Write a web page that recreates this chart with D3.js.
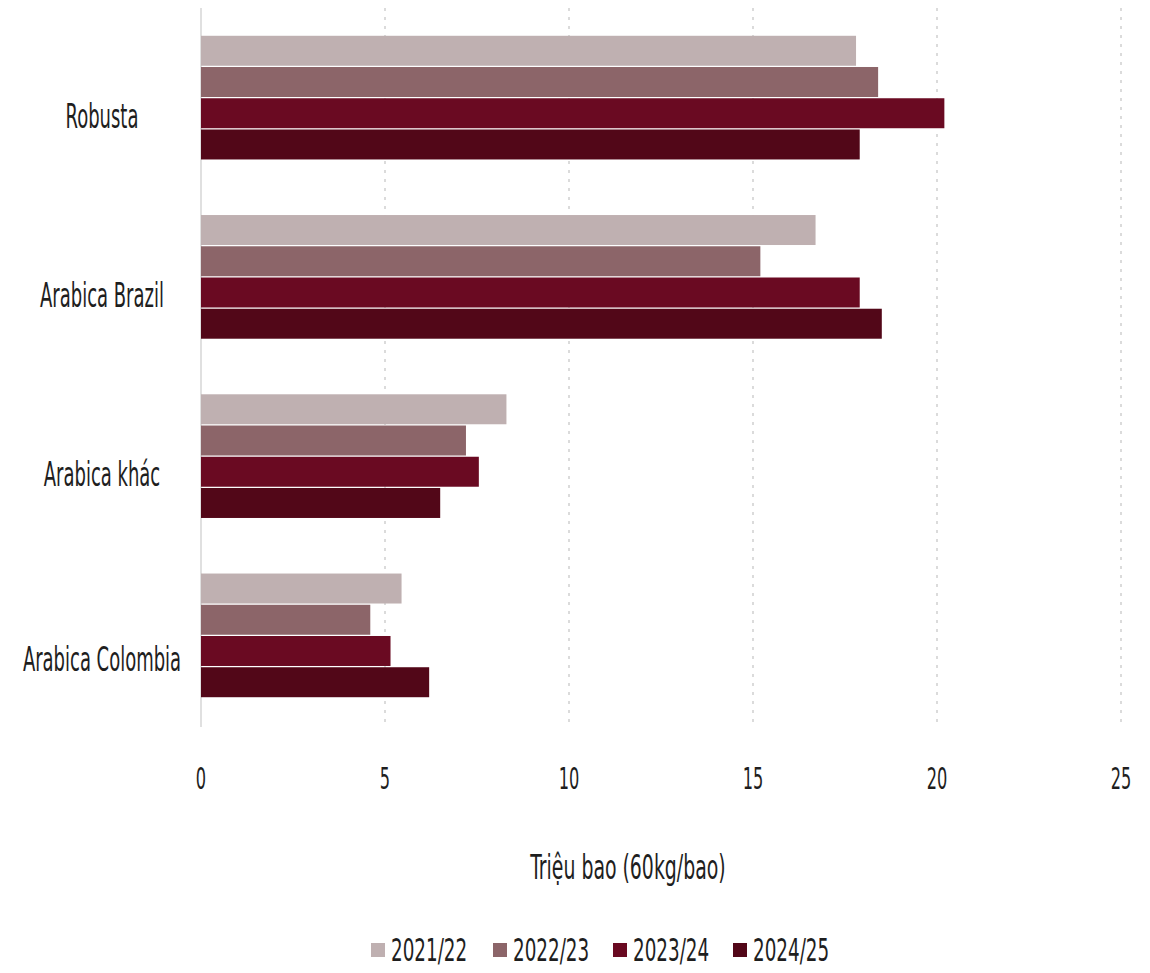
<!DOCTYPE html>
<html><head><meta charset="utf-8">
<script src="https://cdn.jsdelivr.net/npm/d3@7"></script>
<style>
body{margin:0;background:#fff;}
text{font-family:"DejaVu Sans Condensed","Liberation Sans Narrow",sans-serif;fill:#1e1e1e;}
</style></head>
<body><svg id="c" width="1150" height="973"></svg>
<script>
const categories = ["Robusta","Arabica Brazil","Arabica khác","Arabica Colombia"];
const seriesNames = ["2021/22","2022/23","2023/24","2024/25"];
const v2021 = [17.8, 16.7, 8.3, 5.45];
const v2022 = [18.4, 15.2, 7.2, 4.6];
const v2023 = [20.2, 17.9, 7.55, 5.15];
const v2024 = [17.9, 18.5, 6.5, 6.2];
const seriesValues = [v2021, v2022, v2023, v2024];
const colors = ["#bfb0b1","#8c6569","#6a0a22","#520718"];
const xTicks = [0,5,10,15,20,25];
const xTitle = "Triệu bao (60kg/bao)";

const svg = d3.select("#c");
const x = d3.scaleLinear().domain([0,25]).range([201,1121]);
const y = d3.scaleBand().domain(categories).range([8,725]).paddingInner(0.31).paddingOuter(0.155);
const y1 = d3.scaleBand().domain(seriesNames).range([0,y.bandwidth()]).paddingInner(0.04);

function stretchText(parent, tx, ty, str, size, sy, anchor){
  return parent.append("text")
    .attr("transform",`translate(${tx},${ty}) scale(1,${sy})`)
    .attr("text-anchor",anchor).attr("font-size",size).text(str);
}

// gridlines
svg.append("g").selectAll("line").data(xTicks.filter(d=>d>0)).join("line")
  .attr("x1",d=>x(d)).attr("x2",d=>x(d)).attr("y1",8).attr("y2",727)
  .attr("stroke","#c8c8c8").attr("stroke-width",1.3).attr("stroke-dasharray","3,6");
svg.append("line").attr("x1",x(0)).attr("x2",x(0)).attr("y1",8).attr("y2",727)
  .attr("stroke","#d0d0d0").attr("stroke-width",1.3);

const g = svg.append("g");
categories.forEach((c,ci)=>{
  seriesNames.forEach((s,si)=>{
    g.append("rect").attr("x",x(0)).attr("y",y(c)+y1(s))
     .attr("width",x(seriesValues[si][ci])-x(0)).attr("height",y1.bandwidth())
     .attr("fill",colors[si]);
  });
});

// x tick labels
const xa = svg.append("g");
xTicks.forEach(t=>stretchText(xa, x(t), 789, String(t), 18, 1.7, "middle"));

// category labels
const yg = svg.append("g");
categories.forEach((c,i)=>{
  stretchText(yg, 102, y(c)+y.bandwidth()/2+30 + (i===3?6:0), c, 20, 1.7, "middle");
});

stretchText(svg, 628, 879, xTitle, 21, 1.6, "middle");

// legend
const legX = [371,493,613,733];
const lg = svg.append("g");
seriesNames.forEach((s,i)=>{
  lg.append("rect").attr("x",legX[i]).attr("y",943).attr("width",14).attr("height",14).attr("fill",colors[i]);
  stretchText(lg, legX[i]+20, 961, s, 20.4, 1.6, "start");
});
</script></body></html>
